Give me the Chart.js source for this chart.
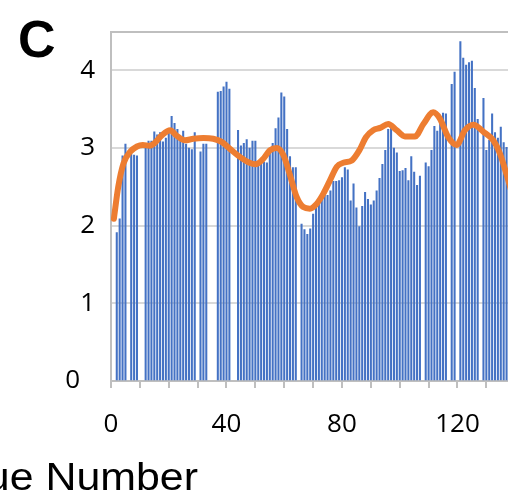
<!DOCTYPE html>
<html>
<head>
<meta charset="utf-8">
<script src="https://cdn.jsdelivr.net/npm/chart.js"></script>
<style>
  html, body { margin: 0; padding: 0; background: #fff; }
  #wrap { position: relative; width: 508px; height: 497px; }
</style>
</head>
<body>
<div id="wrap"><canvas id="myChart"></canvas></div>
<script>
const ctx = document.getElementById('myChart');

// score per residue, array index = residue number (null = no value)
const scores = [
  null, null, 1.91, 2.09, 2.90, 3.05, null, 2.93, 2.91, 2.90,
  null, null, 3.00, 3.09, 3.09, 3.21, 3.17, 3.20, 3.08, 3.13,
  3.24, 3.41, 3.32, 3.24, 3.12, 3.22, 3.05, 3.00, 2.98, 3.20,
  null, 2.95, 3.05, 3.05, null, null, null, 3.72, 3.73, 3.79,
  3.85, 3.76, null, null, 3.23, 3.03, 3.06, 3.11, 3.00, 3.09,
  3.09, 2.81, 2.80, 2.82, 2.81, 2.99, 3.06, 3.25, 3.39, 3.71,
  3.66, 3.24, 2.89, 2.75, 2.75, null, 2.02, 1.95, 1.89, 1.96,
  2.15, 2.30, 2.31, 2.35, 2.40, 2.39, 2.45, 2.57, 2.57, 2.58,
  2.62, 2.75, 2.72, 2.32, 2.54, 2.23, 1.99, 2.25, 2.43, 2.34,
  2.27, 2.32, 2.45, 2.61, 2.79, 2.97, 3.24, 3.28, 3.00, 2.94,
  2.70, 2.71, 2.74, 2.58, 2.89, 2.69, 2.52, 2.64, null, 2.81,
  2.76, 2.97, 3.28, 3.22, 3.34, 3.45, 3.44, null, 3.82, 3.98,
  null, 4.37, 4.16, 4.07, 4.10, 4.12, 3.77, 3.37, null, 3.64,
  2.97, 3.10, 3.44, 3.20, 3.13, 3.27, 3.07, 3.01
];

// smoothed trend along the sequence
const trendResidues = [1, 2.5, 4.3, 6.6, 9, 11, 13.5, 15, 17.5, 20.5, 22.7, 25.6, 28.5, 32, 35.4, 38.3,
  41.2, 44.5, 48, 50, 52.7, 55, 57.4, 59.7, 62, 64.3, 66.6, 68.9, 71.2, 73.5, 75.8, 78.2, 80.4,
  83.4, 86, 88.3, 90.8, 93.2, 96, 98.9, 101.8, 105.3, 108.2, 111.6, 113.9, 116.8, 119.7, 122.6,
  125.5, 129, 132.4, 134.7, 137, 139];
const trendValues = [2.09, 2.50, 2.80, 2.95, 3.02, 3.04, 3.03, 3.06, 3.16, 3.23, 3.16, 3.10, 3.12, 3.13, 3.12, 3.08,
  2.99, 2.89, 2.81, 2.79, 2.86, 2.97, 3.00, 2.91, 2.65, 2.37, 2.24, 2.22, 2.28, 2.41, 2.58, 2.76, 2.81,
  2.84, 2.97, 3.14, 3.23, 3.26, 3.31, 3.23, 3.15, 3.15, 3.31, 3.46, 3.38, 3.14, 3.04, 3.23,
  3.30, 3.21, 3.10, 2.93, 2.66, 2.40];

const xLabels = [0, 40, 80, 120];
const yLabels = [0, 1, 2, 3, 4];

const blue = '#4472C4';
const orange = '#ED7D31';
const axisGrey = '#BFBFBF';
const gridGrey = '#D9D9D9';
const tickFont = { family: 'Open Sans', size: 26 };

const barPoints = [];
scores.forEach((v, i) => {
  if (v !== null) barPoints.push({ x: i, y: v });
});
const trendPoints = trendResidues.map((r, i) => ({ x: r, y: trendValues[i] }));

// panel letter and axis caption
const panelText = {
  id: 'panelText',
  afterDraw(chart) {
    const c = chart.ctx;
    c.save();
    c.fillStyle = '#000';
    c.textBaseline = 'alphabetic';
    c.textAlign = 'left';
    c.font = 'bold 52px "Liberation Sans"';
    c.fillText('C', 18, 57);
    c.translate(198, 490);
    c.scale(1.1, 1);
    c.textAlign = 'right';
    c.font = '39px "Liberation Sans"';
    c.fillText('Residue Number', 0, 0);
    c.restore();
  }
};

new Chart(ctx, {
  type: 'bar',
  data: {
    datasets: [{
      type: 'line',
      data: trendPoints,
      borderColor: orange,
      borderWidth: 6,
      borderCapStyle: 'round',
      pointRadius: 0,
      cubicInterpolationMode: 'monotone',
      order: 0
    }, {
      type: 'bar',
      data: barPoints,
      backgroundColor: blue,
      barThickness: 1.4,
      order: 1
    }]
  },
  options: {
    responsive: true,
    maintainAspectRatio: false,
    animation: false,
    layout: { padding: { top: 31, left: 0, right: 0, bottom: 0 } },
    plugins: {
      legend: { display: false },
      tooltip: { enabled: false }
    },
    scales: {
      x: {
        type: 'linear',
        min: 0,
        max: 137.5,
        offset: false,
        afterFit: s => { s.height = 116; },
        grid: { offset: false, drawOnChartArea: false, color: axisGrey, lineWidth: 2, tickLength: 7 },
        border: { color: axisGrey, width: 2 },
        ticks: {
          stepSize: 10,
          includeBounds: false,
          autoSkip: false,
          maxRotation: 0,
          padding: 21,
          color: '#000',
          font: tickFont,
          callback: v => xLabels.includes(v) ? String(v) : ''
        }
      },
      xTop: {
        axis: 'x',
        type: 'linear',
        position: 'top',
        min: 0,
        max: 137.5,
        afterFit: s => { s.height = 0; },
        grid: { display: false },
        ticks: { display: false },
        border: { color: axisGrey, width: 2 }
      },
      y: {
        min: 0,
        max: 4.5,
        afterFit: s => { s.width = 111; },
        grid: { drawTicks: false, color: gridGrey, lineWidth: 2 },
        border: { color: axisGrey, width: 2 },
        ticks: {
          stepSize: 1,
          includeBounds: false,
          padding: 16,
          color: '#000',
          font: tickFont,
          callback: v => yLabels.includes(v) ? (v === 0 ? '0\u2007' : String(v)) : ''
        }
      }
    }
  },
  plugins: [panelText]
});
</script>
</body>
</html>
